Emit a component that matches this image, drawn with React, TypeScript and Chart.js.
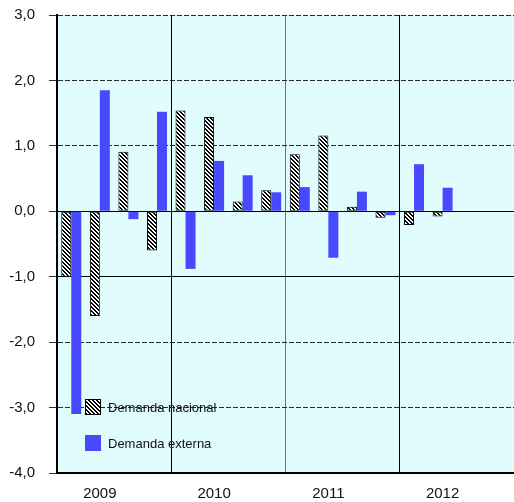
import React, { useEffect, useRef } from "react";
import { Chart, registerables } from "chart.js";

Chart.register(...registerables);

const categories = [
  "2009-T1", "2009-T2", "2009-T3", "2009-T4",
  "2010-T1", "2010-T2", "2010-T3", "2010-T4",
  "2011-T1", "2011-T2", "2011-T3", "2011-T4",
  "2012-T1", "2012-T2", "2012-T3", "2012-T4",
];
const yearTicks = [
  "", "2009", "", "",
  "", "2010", "", "",
  "", "2011", "", "",
  "", "2012", "", "",
];
const demandaNacional = [-1.0, -1.6, 0.91, -0.6, 1.54, 1.44, 0.15, 0.32, 0.87, 1.16, 0.07, -0.1, -0.21, -0.08, null, null];
const demandaExterna = [-3.1, 1.85, -0.12, 1.52, -0.88, 0.77, 0.55, 0.29, 0.37, -0.71, 0.3, -0.06, 0.72, 0.36, null, null];
const seriesNames = ["Demanda nacional", "Demanda externa"];

const FONT = "'Liberation Sans', Arial, sans-serif";
const BLUE = "#4848ff";
const BG = "#e0fcfc";

function makeHatch(): CanvasPattern | string {
  const n = 4;
  const pc = document.createElement("canvas");
  pc.width = n;
  pc.height = n;
  const c = pc.getContext("2d");
  if (!c) return "#ffffff";
  c.fillStyle = "#ffffff";
  c.fillRect(0, 0, n, n);
  c.fillStyle = "#000000";
  for (let i = 0; i < n; i++) {
    c.fillRect(i, i, 1, 1);
    c.fillRect((i + 1) % n, i, 1, 1);
  }
  const p = c.createPattern(pc, "repeat");
  return p || "#ffffff";
}

export default function App() {
  const ref = useRef<HTMLCanvasElement | null>(null);

  useEffect(() => {
    document.body.style.margin = "0";
    const canvas = ref.current;
    if (!canvas) return;
    const hatch = makeHatch();

    const bgPlugin = {
      id: "plotBg",
      beforeDraw(chart: any) {
        const { ctx, chartArea } = chart;
        ctx.save();
        ctx.fillStyle = BG;
        ctx.fillRect(chartArea.left, chartArea.top, chartArea.right - chartArea.left, chartArea.bottom - chartArea.top);
        ctx.restore();
      },
    };

    const legendPlugin = {
      id: "innerLegend",
      afterDraw(chart: any) {
        const { ctx, chartArea } = chart;
        const x = chartArea.left + 28;
        const y1 = chartArea.bottom - 74;
        const y2 = chartArea.bottom - 38;
        ctx.save();
        ctx.fillStyle = hatch as any;
        ctx.fillRect(x, y1, 16, 16);
        ctx.strokeStyle = "#000";
        ctx.lineWidth = 1;
        ctx.strokeRect(x + 0.5, y1 + 0.5, 15, 15);
        ctx.fillStyle = BLUE;
        ctx.fillRect(x, y2, 16, 16);
        ctx.fillStyle = "#111";
        ctx.font = `13px ${FONT}`;
        ctx.textBaseline = "middle";
        ctx.textAlign = "left";
        ctx.fillText(seriesNames[0], x + 23, y1 + 9);
        ctx.fillText(seriesNames[1], x + 23, y2 + 9);
        ctx.restore();
      },
    };

    const chart = new Chart(canvas, {
      type: "bar",
      data: {
        labels: categories,
        datasets: [
          {
            label: seriesNames[0],
            data: demandaNacional as any,
            backgroundColor: hatch as any,
            borderColor: "#000",
            borderWidth: 1,
            borderSkipped: false,
            categoryPercentage: 0.7,
            barPercentage: 1.0,
          },
          {
            label: seriesNames[1],
            data: demandaExterna as any,
            backgroundColor: BLUE,
            borderWidth: 0,
            categoryPercentage: 0.7,
            barPercentage: 1.0,
          },
        ],
      },
      options: {
        animation: false,
        responsive: false,
        maintainAspectRatio: false,
        layout: { padding: { top: 15, right: 0, left: 0, bottom: 0 } },
        plugins: {
          legend: { display: false },
          tooltip: { enabled: false },
        },
        scales: {
          x: {
            grid: {
              offset: true,
              drawTicks: false,
              color: (ctx: any) => {
                const i = ctx.index;
                if (i === undefined) return "rgba(0,0,0,0)";
                if (i === 8) return "#667777";
                return i % 4 === 0 ? "#000" : "rgba(0,0,0,0)";
              },
              lineWidth: 1,
            },
            border: { display: true, color: "#000", width: 2 },
            ticks: {
              autoSkip: false,
              maxRotation: 0,
              padding: 12,
              color: "#111",
              font: { family: FONT, size: 15 },
              callback: (_v: any, i: number) => yearTicks[i],
            },
            afterFit: (s: any) => {
              s.height = 29;
              s.paddingLeft = 0;
              s.paddingRight = 0;
            },
          },
          y: {
            min: -4,
            max: 3,
            ticks: {
              stepSize: 1,
              padding: 14,
              color: "#111",
              font: { family: FONT, size: 15 },
              callback: (v: any) => Number(v).toFixed(1).replace(".", ","),
            },
            grid: {
              color: (ctx: any) => {
                const v = ctx.tick ? ctx.tick.value : null;
                if (v === 0 || v === -1) return "#000";
                return "#2a2a2a";
              },
              lineWidth: 1,
              drawTicks: true,
              tickLength: 8,
              tickColor: "#333",
              tickBorderDash: [],
            },
            border: {
              display: true,
              color: "#000",
              width: 2,
              dash: (ctx: any) => {
                if (!ctx.tick) return [];
                const v = ctx.tick.value;
                if (v === 0 || v === -1 || v === -4) return [];
                return [5, 2];
              },
            } as any,
            afterFit: (s: any) => {
              s.width = 57;
              s.paddingTop = 0;
              s.paddingBottom = 0;
            },
          },
        },
      },
      plugins: [bgPlugin, legendPlugin],
    } as any);

    return () => chart.destroy();
  }, []);

  return (
    <div style={{ width: 514, height: 502 }}>
      <canvas ref={ref} width={514} height={502} style={{ display: "block", width: 514, height: 502 }} />
    </div>
  );
}
